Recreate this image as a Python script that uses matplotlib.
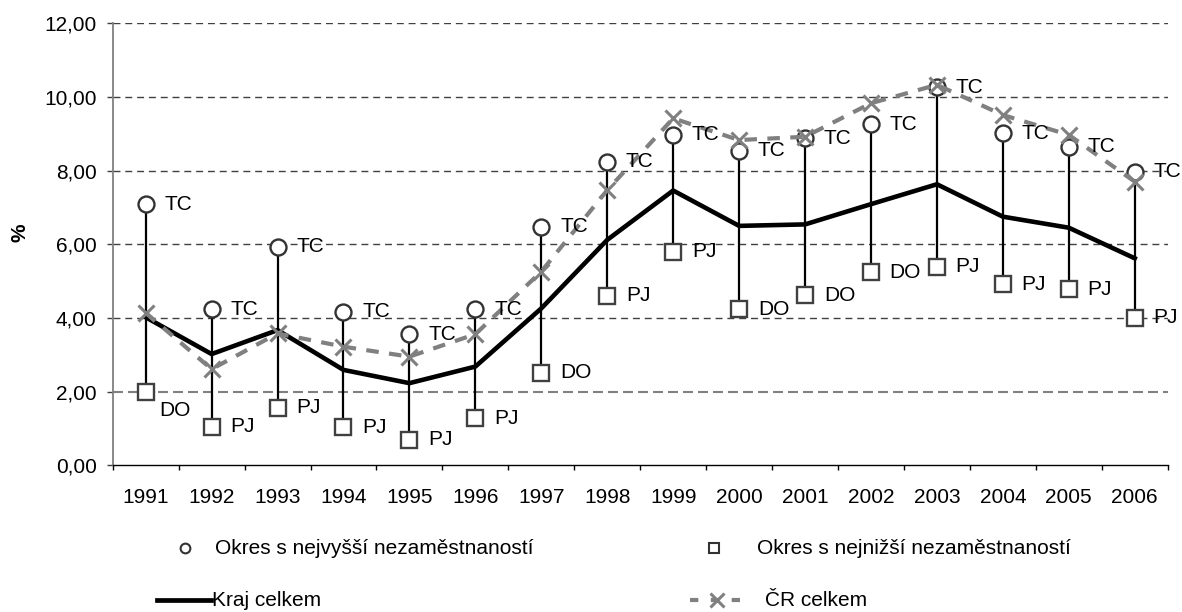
import matplotlib
matplotlib.use('Agg')
import matplotlib.pyplot as plt
from matplotlib.lines import Line2D
import numpy as np

years = ['1991', '1992', '1993', '1994', '1995', '1996', '1997', '1998',
         '1999', '2000', '2001', '2002', '2003', '2004', '2005', '2006']
max_vals = [7.09, 4.24, 5.94, 4.17, 3.56, 4.24, 6.48, 8.24,
            8.97, 8.54, 8.88, 9.26, 10.26, 9.01, 8.65, 7.97]
max_labels = ['TC'] * 16
min_vals = [1.98, 1.05, 1.56, 1.03, 0.69, 1.28, 2.51, 4.60,
            5.80, 4.24, 4.62, 5.24, 5.39, 4.91, 4.78, 4.01]
min_labels = ['DO', 'PJ', 'PJ', 'PJ', 'PJ', 'PJ', 'DO', 'PJ',
              'PJ', 'DO', 'DO', 'DO', 'PJ', 'PJ', 'PJ', 'PJ']
kraj = [4.02, 3.02, 3.67, 2.59, 2.23, 2.68, 4.26, 6.12,
        7.46, 6.50, 6.54, 7.09, 7.63, 6.75, 6.45, 5.62]
cr = [4.14, 2.61, 3.58, 3.22, 2.95, 3.56, 5.26, 7.47,
      9.42, 8.83, 8.92, 9.83, 10.33, 9.51, 8.97, 7.70]
y_ticks = [0, 2, 4, 6, 8, 10, 12]
legend_labels = ['Okres s nejvyšší nezaměstnaností', 'Okres s nejnižší nezaměstnaností',
                 'Kraj celkem', 'ČR celkem']

plt.rcParams['font.family'] = ['Liberation Sans', 'DejaVu Sans']
plt.rcParams['font.size'] = 15

W, H = 1182, 612
fig = plt.figure(figsize=(W / 100, H / 100), dpi=100)
ax = fig.add_axes([112.7 / W, 1 - 465.3 / H, (1167.7 - 112.7) / W, (465.3 - 23.3) / H])

x = np.arange(len(years))

# gridlines
for yv in y_ticks[1:]:
    if yv == 2:
        ax.axhline(yv, color='#808080', lw=1.5, dashes=(4.8, 2.4), zorder=1)
    else:
        ax.axhline(yv, color='#404040', lw=1.0, dashes=(5, 3.5), zorder=1)

ax.vlines(x, min_vals, max_vals, color='black', lw=1.6, zorder=2)
ax.plot(x, kraj, color='black', lw=3.3, zorder=3)
ax.plot(x, max_vals, ls='none', marker='o', ms=11.5, mfc='white', mec='#333333', mew=1.7, zorder=4)
ax.plot(x, min_vals, ls='none', marker='s', ms=11.5, mfc='white', mec='#404040', mew=1.7, zorder=4)
ax.plot(x, cr, color='#808080', lw=3, dashes=(3, 2.5), marker='x', ms=12, mew=2.2, zorder=5)

for i in range(len(years)):
    ax.annotate(max_labels[i], (x[i], max_vals[i]), xytext=(13.5, 0), textcoords='offset points',
                ha='left', va='center', zorder=6)
    off = (10, -13) if i == 0 else (13.5, 0)
    ax.annotate(min_labels[i], (x[i], min_vals[i]), xytext=off, textcoords='offset points',
                ha='left', va='center', zorder=6)

ax.set_xlim(-0.5, len(years) - 0.5)
ax.set_ylim(0, 12)
ax.set_yticks(y_ticks)
ax.set_yticklabels([f"{v:.2f}".replace('.', ',') for v in y_ticks])
ax.tick_params(axis='y', direction='out', length=4.5, width=1, color='#404040', pad=7)

ax.set_xticks(np.arange(-0.5, len(years), 1))
ax.set_xticklabels([])
ax.tick_params(axis='x', which='major', direction='out', length=3.6, width=1, color='black')
ax.set_xticks(x, minor=True)
ax.set_xticklabels(years, minor=True)
ax.tick_params(axis='x', which='minor', length=0, pad=16)

for s in ['top', 'right']:
    ax.spines[s].set_visible(False)
ax.spines['left'].set_color('#808080')
ax.spines['left'].set_linewidth(1.3)
ax.spines['bottom'].set_color('black')
ax.spines['bottom'].set_linewidth(1)

fig.text(20 / W, 1 - 233 / H, '%', rotation=90, fontweight='bold', ha='center', va='center')

# legend (manual)
def fx(px):
    return px / W

def fy(py):
    return 1 - py / H

r1, r2 = 548, 600
fig.add_artist(Line2D([fx(185)], [fy(r1)], marker='o', ms=7, mfc='white', mec='#333333',
                      mew=1.5, ls='none', transform=fig.transFigure))
fig.text(fx(215), fy(r1), legend_labels[0], ha='left', va='center')
fig.add_artist(Line2D([fx(714)], [fy(r1)], marker='s', ms=7, mfc='white', mec='#333333',
                      mew=1.5, ls='none', transform=fig.transFigure))
fig.text(fx(757), fy(r1), legend_labels[1], ha='left', va='center')
fig.add_artist(Line2D([fx(157), fx(211)], [fy(r2), fy(r2)], color='black', lw=3.4,
                      transform=fig.transFigure))
fig.text(fx(212), fy(r2), legend_labels[2], ha='left', va='center')
fig.add_artist(Line2D([fx(690), fx(717), fx(745)], [fy(r2)] * 3, color='#808080', lw=3,
                      dashes=(2, 3), marker='x', ms=10, mew=2.2, markevery=[1],
                      transform=fig.transFigure))
fig.text(fx(765), fy(r2), legend_labels[3], ha='left', va='center')

fig.savefig('out.png', dpi=100)
